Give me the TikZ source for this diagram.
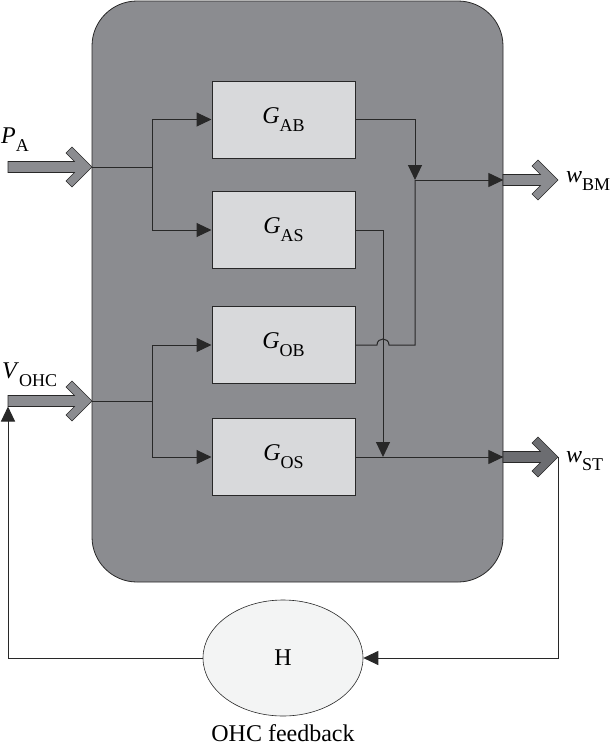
\documentclass[tikz,border=0pt]{standalone}
\usepackage{fontspec}
\setmainfont{Liberation Serif}
\usetikzlibrary{arrows.meta,shapes.geometric,positioning}
\definecolor{panelgray}{RGB}{139,140,144}
\definecolor{blockgray}{RGB}{216,217,219}
\definecolor{darkarrow}{RGB}{108,109,113}
\definecolor{hfill}{RGB}{243,244,244}
\definecolor{wiregray}{RGB}{40,40,40}
\newcommand{\gsym}[2]{\textit{#1}\raisebox{-8pt}{\fontsize{18}{20}\selectfont #2}}
% thick open-headed arrow: start x, tip x, y, fill
\newcommand{\fatarrow}[4]{%
  \filldraw[fill=#4,draw=wiregray,line width=0.6pt,line join=miter]
    (#1,{#3-5.5}) -- ({#2-17.5},{#3-5.5}) -- ({#2-26},{#3-14}) -- ({#2-20},{#3-20})
    -- (#2,#3) -- ({#2-20},{#3+20}) -- ({#2-26},{#3+14}) -- ({#2-17.5},{#3+5.5})
    -- (#1,{#3+5.5}) -- cycle;}

\begin{document}
\begin{tikzpicture}[x=1pt,y=-1pt,
  every node/.style={font=\fontsize{24}{28}\selectfont},
  panel/.style={draw=wiregray,line width=0.8pt,fill=panelgray,rounded corners=45pt,
    minimum width=411pt,minimum height=581pt},
  block/.style={draw=wiregray,line width=1pt,fill=blockgray,inner sep=0pt,
    minimum width=143pt,minimum height=77pt},
  wire/.style={draw=wiregray,line width=1pt},
  flow/.style={wire,-{Triangle[length=15pt,width=14pt]}}]
  \useasboundingbox (0,0) rectangle (613,750);

  \node[panel] (ear) at (297.5,291.5) {};
  \foreach \nm/\lab/\yy in {gab/AB/119.5,gas/AS/230,gob/OB/345,gos/OS/457}
    \node[block] (\nm) at (283.5,\yy) {\gsym{G}{\lab}};

  % inputs
  \fatarrow{8}{92}{167}{panelgray}
  \fatarrow{8}{92}{401}{panelgray}
  \coordinate (pa) at (92,167);
  \coordinate (vo) at (92,401);
  \coordinate (vbot) at (8,406.5);
  \node[anchor=base west,inner sep=0pt] (plab) at (1,143) {\gsym{P}{A}};
  \node[anchor=base west,inner sep=0pt] (vlab) at (2,378) {\gsym{V}{OHC}};

  \draw[wire] (pa) -- (152,167) coordinate (sa);
  \draw[flow] (sa) |- (gab.west);
  \draw[flow] (sa) |- (gas.west);
  \draw[wire] (vo) -- (152,401) coordinate (sv);
  \draw[flow] (sv) |- (gob.west);
  \draw[flow] (sv) |- (gos.west);

  % outputs
  \coordinate (jbm) at (415,180);
  \coordinate (jst) at (383,457);
  \draw[flow] (gab.east) -| (jbm);
  \draw[wire] (gob.east) -- (377,345) .. controls (377,337) and (389,337) .. (389,345) -| (jbm);
  \draw[flow] (gas.east) -| (jst);
  \draw[flow] (jbm) -- (jbm -| ear.east);
  \draw[flow] (gos.east) -- (gos.east -| ear.east);

  \fatarrow{503}{558}{180}{panelgray}
  \fatarrow{503}{558}{457}{darkarrow}
  \coordinate (wtip) at (558,457);
  \node[anchor=base west,inner sep=0pt] (wbm) at (566,182) {\gsym{w}{BM}};
  \node[anchor=base west,inner sep=0pt] (wst) at (566,462) {\gsym{w}{ST}};

  % feedback
  \node[ellipse,draw=wiregray,line width=0.6pt,fill=hfill,minimum width=160pt,
    minimum height=116pt] (h) at (283,658) {H};
  \node[below=5pt of h] (hlab) {OHC feedback};
  \draw[flow] (wtip) |- (h.east);
  \draw[flow] (h.west) -| (vbot);
\end{tikzpicture}
\end{document}
